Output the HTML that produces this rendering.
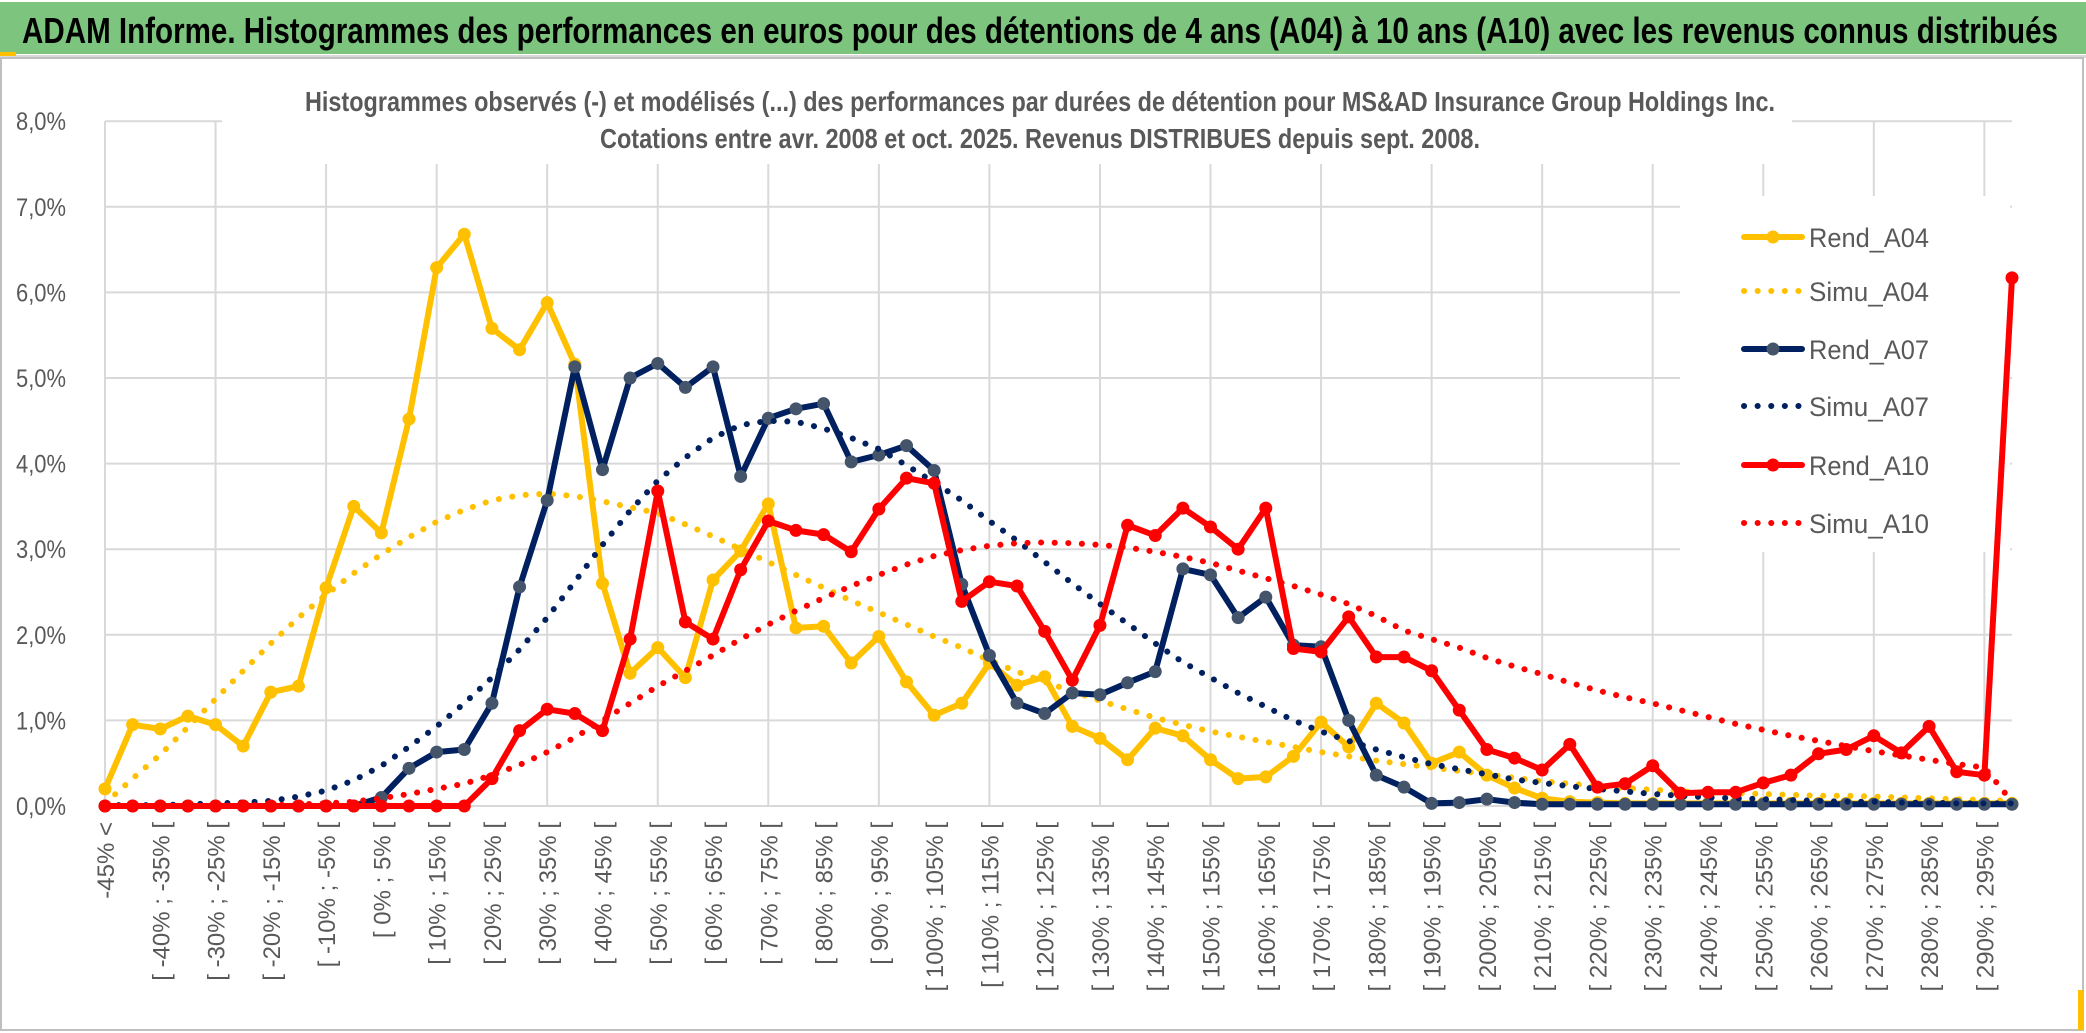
<!DOCTYPE html>
<html><head><meta charset="utf-8"><style>
html,body{margin:0;padding:0;background:#fff;}
svg{display:block;}
text{font-family:"Liberation Sans",sans-serif;}
</style></head><body>
<svg id="chart" width="2086" height="1033" viewBox="0 0 2086 1033" xmlns="http://www.w3.org/2000/svg">
<rect x="0" y="0" width="2086" height="1033" fill="#fff"/>
<rect x="0" y="2" width="2086" height="52" fill="#7dc57f"/>
<rect x="0" y="55" width="2086" height="3" fill="#d9d9d9"/>
<rect x="0" y="52" width="16" height="4" fill="#ffc000"/>
<text x="22" y="43" font-size="36" font-weight="bold" fill="#000" textLength="2036" lengthAdjust="spacingAndGlyphs">ADAM Informe. Histogrammes des performances en euros pour des détentions de 4 ans (A04) à 10 ans (A10) avec les revenus connus distribués</text>
<rect x="1" y="58" width="2082" height="972" fill="none" stroke="#bfbfbf" stroke-width="2"/>
<rect x="2078" y="990" width="6" height="40" fill="#ffc000"/>
<g id="grid"></g>
<rect x="222" y="88" width="1570" height="76" fill="#fff"/>
<text x="1040" y="111" font-size="28" font-weight="bold" fill="#595959" text-anchor="middle" textLength="1470" lengthAdjust="spacingAndGlyphs">Histogrammes observés (-) et modélisés (...) des performances par durées de détention pour MS&amp;AD Insurance Group Holdings Inc.</text>
<text x="1040" y="148" font-size="28" font-weight="bold" fill="#595959" text-anchor="middle" textLength="880" lengthAdjust="spacingAndGlyphs">Cotations entre avr. 2008 et oct. 2025. Revenus DISTRIBUES depuis sept. 2008.</text>
<rect x="1680" y="196" width="330" height="356" fill="#fff"/>
<g id="yaxis"></g>
<g id="xaxis"></g>
<g id="series"></g>
<g id="legend"></g>
</svg>
<script>
const rendA04 = [0.2,0.95,0.9,1.05,0.95,0.7,1.33,1.4,2.55,3.5,3.19,4.52,6.29,6.68,5.58,5.33,5.88,5.16,2.6,1.55,1.85,1.5,2.64,2.98,3.53,2.08,2.1,1.67,1.98,1.45,1.06,1.2,1.67,1.41,1.51,0.93,0.79,0.54,0.91,0.82,0.54,0.32,0.34,0.58,0.98,0.69,1.2,0.97,0.5,0.63,0.36,0.21,0.09,0.05,0.04,0.03,0.03,0.03,0.03,0.03,0.03,0.03,0.03,0.03,0.03,0.03,0.03,0.03,0.03,0.03];
const simuA04 = [0.03,0.32,0.6,0.92,1.25,1.58,1.9,2.2,2.47,2.72,2.94,3.14,3.32,3.46,3.57,3.63,3.65,3.62,3.56,3.49,3.42,3.29,3.15,3.0,2.85,2.7,2.55,2.4,2.26,2.12,1.98,1.85,1.7,1.57,1.45,1.34,1.23,1.13,1.03,0.95,0.87,0.81,0.75,0.69,0.63,0.58,0.53,0.49,0.45,0.41,0.37,0.33,0.29,0.26,0.23,0.21,0.19,0.17,0.16,0.15,0.14,0.13,0.12,0.12,0.11,0.1,0.09,0.08,0.07,0.06];
const rendA07 = [0,0,0,0,0,0,0,0,0,0,0.1,0.44,0.63,0.66,1.2,2.56,3.57,5.13,3.93,5.0,5.17,4.89,5.13,3.85,4.53,4.64,4.7,4.02,4.1,4.21,3.92,2.59,1.76,1.2,1.08,1.32,1.3,1.44,1.57,2.77,2.7,2.2,2.44,1.88,1.86,1.0,0.36,0.22,0.03,0.04,0.08,0.04,0.02,0.02,0.02,0.02,0.02,0.02,0.02,0.02,0.02,0.02,0.02,0.02,0.02,0.02,0.02,0.02,0.02,0.02];
const simuA07 = [0.01,0.01,0.01,0.02,0.03,0.04,0.06,0.11,0.18,0.3,0.47,0.69,0.93,1.2,1.5,1.83,2.2,2.62,3.05,3.45,3.8,4.07,4.3,4.45,4.5,4.49,4.41,4.3,4.17,3.98,3.78,3.57,3.33,3.1,2.85,2.6,2.36,2.13,1.9,1.68,1.5,1.32,1.16,1.0,0.87,0.76,0.66,0.57,0.49,0.43,0.37,0.31,0.27,0.23,0.2,0.17,0.14,0.12,0.1,0.09,0.08,0.07,0.06,0.05,0.05,0.04,0.04,0.03,0.03,0.03];
const rendA10 = [0,0,0,0,0,0,0,0,0,0,0,0,0,0,0.32,0.88,1.13,1.08,0.88,1.95,3.68,2.15,1.95,2.76,3.33,3.22,3.17,2.97,3.47,3.83,3.77,2.39,2.62,2.57,2.04,1.47,2.11,3.28,3.16,3.48,3.26,3.0,3.48,1.84,1.8,2.21,1.74,1.74,1.58,1.12,0.66,0.56,0.42,0.72,0.22,0.26,0.47,0.15,0.16,0.16,0.27,0.36,0.61,0.66,0.82,0.62,0.93,0.4,0.36,6.17];
const simuA10 = [0,0,0,0,0,0.01,0.01,0.02,0.03,0.05,0.09,0.14,0.2,0.26,0.36,0.48,0.63,0.8,1.0,1.2,1.4,1.58,1.76,1.95,2.12,2.28,2.43,2.57,2.7,2.82,2.92,2.99,3.04,3.07,3.08,3.07,3.05,3.02,2.97,2.91,2.84,2.75,2.66,2.57,2.47,2.36,2.22,2.05,1.95,1.85,1.73,1.63,1.54,1.44,1.35,1.27,1.2,1.12,1.04,0.96,0.89,0.82,0.76,0.7,0.64,0.59,0.54,0.49,0.45,0.05];
const yTicks = [0,1,2,3,4,5,6,7,8];
const yTickLabels = ["0,0%","1,0%","2,0%","3,0%","4,0%","5,0%","6,0%","7,0%","8,0%"];
const seriesNames = ["Rend_A04","Simu_A04","Rend_A07","Simu_A07","Rend_A10","Simu_A10"];

const categories = ["-45% <"];
for (let lo = -45; lo < 300; lo += 5) categories.push("[ " + lo + "% ; " + (lo + 5) + "% [");

const NS = "http://www.w3.org/2000/svg";
const X0 = 105, X1 = 2012, Y0 = 806, PER = 85.6;
const n = rendA04.length;
function xs(i){ return X0 + i * (X1 - X0) / (n - 1); }
function ys(v){ return Y0 - v * PER; }
function mk(tag, attrs, parent){ const e = document.createElementNS(NS, tag); for (const k in attrs) e.setAttribute(k, attrs[k]); parent.appendChild(e); return e; }

const grid = document.getElementById('grid');
yTicks.forEach(t => {
  const l = mk('line', {x1: X0, x2: X1, y1: ys(t), y2: ys(t), stroke: '#d9d9d9', 'stroke-width': 2}, grid);
  
  
});
for (let i = 0; i < n; i += 4) {
  const l = mk('line', {x1: xs(i), x2: xs(i), y1: ys(8), y2: Y0, stroke: '#d9d9d9', 'stroke-width': 2}, grid);
  
  
}

const ya = document.getElementById('yaxis');
yTicks.forEach((t, k) => {
  const tx = mk('text', {x: 66, y: ys(t) + 9, 'font-size': 25, fill: '#595959', 'text-anchor': 'end', textLength: 50, lengthAdjust: 'spacingAndGlyphs'}, ya);
  tx.textContent = yTickLabels[k];
  
  
});

const xa = document.getElementById('xaxis');
categories.forEach((c, i) => {
  if (i % 2 !== 0) return;
  const x = xs(i), y = 822;
  const tx = mk('text', {x: x, y: y, 'font-size': 24, fill: '#595959', 'text-anchor': 'end', transform: 'rotate(-90 ' + x + ' ' + y + ')', dy: '9'}, xa);
  tx.textContent = c;
  
  
});

const sg = document.getElementById('series');
function pts(arr){ return arr.map((v, i) => xs(i).toFixed(1) + ',' + ys(v).toFixed(1)).join(' '); }
function solid(arr, color, mcolor, name){
  const g = mk('g', {}, sg);
  
  
  mk('polyline', {points: pts(arr), fill: 'none', stroke: color, 'stroke-width': 6, 'stroke-linejoin': 'round', 'stroke-linecap': 'round'}, g);
  arr.forEach((v, i) => {
    const c = mk('circle', {cx: xs(i), cy: ys(v), r: 6.5, fill: mcolor}, g);
    
    
  });
}
function dotted(arr, color, name){
  const p = mk('polyline', {points: pts(arr), fill: 'none', stroke: color, 'stroke-width': 6, 'stroke-linecap': 'round', 'stroke-dasharray': '0.1 13.5'}, sg);
  
  
}
solid(rendA04, '#ffc000', '#ffc000', 'series-rend-a04');
dotted(simuA04, '#ffc000', 'series-simu-a04');
solid(rendA07, '#002060', '#44546a', 'series-rend-a07');
dotted(simuA07, '#002060', 'series-simu-a07');
solid(rendA10, '#ff0000', '#ff0000', 'series-rend-a10');
dotted(simuA10, '#ff0000', 'series-simu-a10');

const lg = document.getElementById('legend');
const legColors = ['#ffc000','#ffc000','#002060','#002060','#ff0000','#ff0000'];
const legMarker = ['#ffc000',null,'#44546a',null,'#ff0000',null];
const legY = [237, 291, 349, 406, 465, 523];
seriesNames.forEach((s, k) => {
  const g = mk('g', {}, lg);
  
  
  const y = legY[k];
  if (legMarker[k]) {
    mk('line', {x1: 1744, x2: 1802, y1: y, y2: y, stroke: legColors[k], 'stroke-width': 6, 'stroke-linecap': 'round'}, g);
    mk('circle', {cx: 1773, cy: y, r: 6.5, fill: legMarker[k]}, g);
  } else {
    mk('line', {x1: 1744, x2: 1802, y1: y, y2: y, stroke: legColors[k], 'stroke-width': 6, 'stroke-linecap': 'round', 'stroke-dasharray': '0.1 13.5'}, g);
  }
  const t = mk('text', {x: 1809, y: y + 10, 'font-size': 27, fill: '#595959', textLength: 120, lengthAdjust: 'spacingAndGlyphs'}, g);
  t.textContent = s;
});
</script>
</body></html>
